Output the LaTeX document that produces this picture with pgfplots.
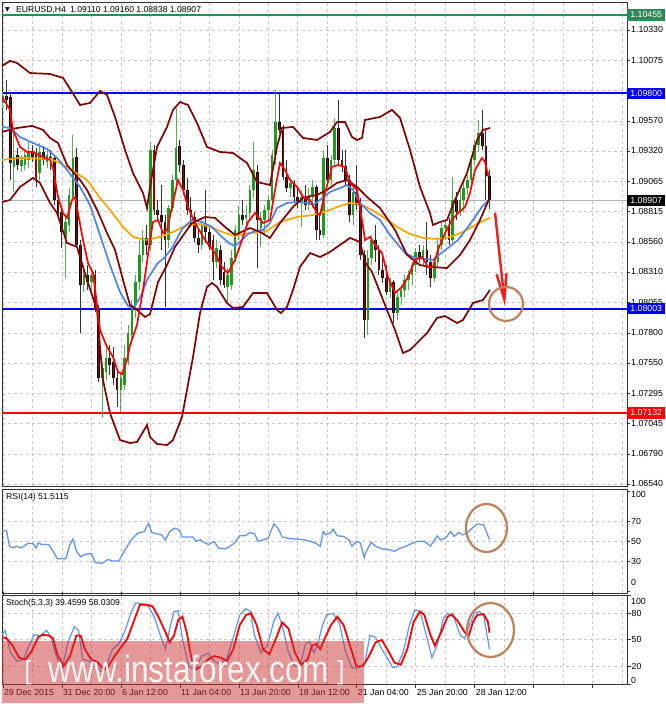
\documentclass[border=0pt]{standalone}
\usepackage{fontspec}
\setmainfont{Liberation Sans}
\newfontfamily\dejavu{DejaVu Sans}
\usepackage{pgfplots}
\usepackage{pgfplotstable}
\pgfplotsset{compat=1.18}
\usetikzlibrary{arrows.meta}

\definecolor{bbred}{RGB}{128,0,0}
\definecolor{maorange}{RGB}{255,165,0}
\definecolor{mablue}{RGB}{80,130,235}
\definecolor{mared}{RGB}{255,0,0}
\definecolor{lvgreen}{RGB}{46,139,87}
\definecolor{lvblue}{RGB}{0,0,255}
\definecolor{lvred}{RGB}{255,0,0}
\definecolor{bullbody}{RGB}{30,155,30}
\definecolor{bullwick}{RGB}{90,170,90}
\definecolor{bearbody}{RGB}{150,0,0}
\definecolor{bearwick}{RGB}{50,50,50}
\definecolor{circ}{RGB}{190,130,90}
\definecolor{rsiblue}{RGB}{100,149,237}
\definecolor{wm}{RGB}{205,50,50}
\definecolor{arrowred}{RGB}{240,30,30}

\newcommand\lf{\fontsize{8.8}{10}\selectfont}

\pgfplotstableread{
k O H L C
0 1.09720 1.09812 1.09678 1.09778
3 1.09186 1.09520 1.08977 1.09269
5 1.09194 1.09286 1.09144 1.09244
6 1.09202 1.09328 1.09161 1.09286
7 1.09244 1.09411 1.09177 1.09311
10 1.09135 1.09386 1.09077 1.09311
12 1.09227 1.09328 1.09177 1.09286
17 1.08593 1.08785 1.08259 1.08726
18 1.08701 1.09010 1.08643 1.08952
19 1.08935 1.09453 1.08910 1.09261
22 1.08200 1.08326 1.08142 1.08284
24 1.08225 1.08326 1.08159 1.08284
27 1.07424 1.07557 1.07090 1.07507
28 1.07474 1.07674 1.07407 1.07591
32 1.07324 1.07474 1.07140 1.07424
33 1.07365 1.07699 1.07324 1.07591
34 1.07574 1.07866 1.07532 1.07799
35 1.07783 1.08075 1.07699 1.08033
36 1.08033 1.08284 1.07925 1.08225
37 1.08225 1.08576 1.08159 1.08451
38 1.08451 1.08660 1.08392 1.08593
40 1.08534 1.09394 1.08493 1.09328
45 1.08576 1.08868 1.08509 1.08843
46 1.08843 1.09119 1.08810 1.09077
47 1.09077 1.09678 1.09035 1.09344
54 1.08534 1.08743 1.08493 1.08701
58 1.08392 1.08576 1.08342 1.08509
61 1.08184 1.08342 1.08050 1.08284
62 1.08200 1.08493 1.08159 1.08426
63 1.08426 1.08701 1.08392 1.08660
64 1.08618 1.08868 1.08576 1.08785
66 1.08760 1.08868 1.08676 1.08785
67 1.08801 1.09035 1.08760 1.08994
68 1.08994 1.09394 1.08927 1.09161
70 1.08676 1.08810 1.08518 1.08760
71 1.08743 1.08868 1.08618 1.08827
72 1.08827 1.08952 1.08726 1.08910
73 1.08910 1.09328 1.08868 1.09286
74 1.09286 1.09829 1.09202 1.09561
78 1.09010 1.09094 1.08935 1.09052
81 1.08885 1.08994 1.08685 1.08935
83 1.08868 1.09010 1.08827 1.08952
84 1.08952 1.09077 1.08843 1.09019
87 1.08618 1.09328 1.08593 1.09261
89 1.09077 1.09286 1.09035 1.09244
90 1.09244 1.09595 1.09202 1.09511
95 1.08785 1.09035 1.08701 1.08977
99 1.07908 1.08493 1.07783 1.08426
100 1.08426 1.08618 1.08367 1.08576
105 1.08142 1.08259 1.08092 1.08225
107 1.07966 1.08159 1.07908 1.08100
108 1.08100 1.08200 1.08033 1.08159
109 1.08159 1.08284 1.08092 1.08242
110 1.08242 1.08326 1.08159 1.08284
111 1.08284 1.08392 1.08200 1.08367
112 1.08367 1.08509 1.08309 1.08476
114 1.08426 1.08534 1.08367 1.08493
117 1.08259 1.08426 1.08225 1.08392
118 1.08392 1.08593 1.08342 1.08534
119 1.08534 1.08718 1.08493 1.08676
120 1.08676 1.08743 1.08576 1.08701
122 1.08576 1.09102 1.08534 1.08910
124 1.08810 1.08994 1.08776 1.08910
125 1.08910 1.09052 1.08810 1.09010
126 1.09010 1.09119 1.08952 1.09077
127 1.09077 1.09286 1.09035 1.09244
128 1.09244 1.09411 1.09202 1.09369
129 1.09369 1.09578 1.09311 1.09469
}\bull

\pgfplotstableread{
k O H L C
1 1.09778 1.09912 1.09662 1.09745
2 1.09770 1.09795 1.09077 1.09219
4 1.09286 1.09344 1.09161 1.09202
8 1.09311 1.09369 1.09227 1.09269
9 1.09302 1.09344 1.09019 1.09094
11 1.09311 1.09361 1.09202 1.09244
13 1.09269 1.09328 1.09161 1.09261
14 1.09261 1.09286 1.08868 1.08910
15 1.08910 1.08952 1.08743 1.08801
16 1.08810 1.08868 1.08509 1.08643
20 1.09269 1.09344 1.08518 1.08534
21 1.08534 1.08576 1.07799 1.08200
23 1.08284 1.08367 1.08159 1.08225
25 1.08284 1.08326 1.07975 1.07992
26 1.07992 1.08033 1.07390 1.07424
29 1.07591 1.07699 1.07449 1.07532
30 1.07557 1.07683 1.07365 1.07424
31 1.07424 1.07491 1.07182 1.07324
39 1.08593 1.08701 1.08451 1.08534
41 1.09328 1.09369 1.08785 1.08827
42 1.08827 1.08910 1.08743 1.08785
43 1.08785 1.09035 1.08493 1.08726
44 1.08726 1.08785 1.08017 1.08576
48 1.09361 1.09411 1.09144 1.09202
49 1.09202 1.09244 1.08952 1.08994
50 1.08994 1.09094 1.08785 1.08827
51 1.08827 1.08935 1.08685 1.08768
52 1.08768 1.08810 1.08559 1.08593
53 1.08593 1.08676 1.08467 1.08534
55 1.08701 1.08994 1.08551 1.08643
56 1.08643 1.08676 1.08493 1.08518
57 1.08576 1.08618 1.08242 1.08392
59 1.08493 1.08534 1.08200 1.08242
60 1.08309 1.08392 1.08175 1.08200
65 1.08785 1.08910 1.08701 1.08743
69 1.09144 1.09202 1.08342 1.08743
75 1.09561 1.09812 1.09469 1.09495
76 1.09495 1.09536 1.09077 1.09102
77 1.09102 1.09244 1.08977 1.09010
79 1.09052 1.09077 1.08893 1.08935
80 1.08935 1.09010 1.08843 1.08885
82 1.08935 1.09035 1.08827 1.08868
85 1.09019 1.09035 1.08576 1.08660
86 1.08660 1.08785 1.08576 1.08618
88 1.09261 1.09369 1.09035 1.09077
91 1.09511 1.09745 1.09202 1.09244
92 1.09244 1.09328 1.09144 1.09194
93 1.09194 1.09328 1.09035 1.09077
94 1.09077 1.09119 1.08726 1.08785
96 1.08977 1.09202 1.08827 1.08868
97 1.08868 1.08927 1.08409 1.08451
98 1.08451 1.08493 1.07758 1.07908
101 1.08576 1.08701 1.08392 1.08493
102 1.08493 1.08534 1.08284 1.08326
103 1.08326 1.08451 1.08217 1.08259
104 1.08259 1.08367 1.08117 1.08142
106 1.08225 1.08242 1.07883 1.07966
113 1.08476 1.08534 1.08392 1.08426
115 1.08493 1.08726 1.08284 1.08392
116 1.08392 1.08451 1.08184 1.08259
121 1.08701 1.08760 1.08534 1.08576
123 1.08910 1.08977 1.08743 1.08810
130 1.09469 1.09662 1.09328 1.09361
131 1.09361 1.09495 1.08910 1.09110
132 1.09110 1.09160 1.08838 1.08907
}\bear

\pgfplotsset{
  mt/.style={
    scale only axis, width=625pt, xmin=-0.22, xmax=169.28,
    enlargelimits=false,
    axis line style={black!80, line width=0.7pt},
    xtick={0,8,...,168}, xmajorgrids, ymajorgrids,
    grid style={dash pattern=on 3pt off 3pt, gray!45, line width=0.6pt},
    minor grid style={dash pattern=on 3pt off 3pt, gray!45, line width=0.6pt},
    ytick pos=right, yticklabel pos=right, tick align=outside,
    major tick length=3pt,
    xtick style={draw=none},
    ytick style={black!80, line width=0.6pt},
    tick label style={font=\lf, black},
    yticklabel style={inner xsep=1pt},
    /pgf/number format/assume math mode=true,
  },
  candle/.style 2 args={draw=none, fill=none, mark=none, forget plot,
    error bars/.cd, y dir=plus, y explicit, error mark=none,
    error bar style={solid, draw=#1, line width=#2}},
}
\tikzset{lbox/.style={anchor=west, text=white, inner sep=0pt, minimum width=38pt, minimum height=11.5pt, font=\lf}}

\begin{document}
\begin{tikzpicture}
\path[use as bounding box] (0pt,0pt) rectangle (665pt,704pt);
\fill[white] (0pt,0pt) rectangle (665pt,704pt);

% ================= MAIN PRICE PANEL =================
\begin{axis}[mt, at={(2pt,218pt)}, anchor=south west, height=484pt,
  ymin=1.06522, ymax=1.10563, xticklabels={},
  ytick={1.06540,1.06790,1.07045,1.07295,1.07550,1.07800,1.08055,1.08310,1.08560,1.08815,1.09065,1.09320,1.09570,1.09825,1.10075,1.10330},
  yticklabels={1.06540,1.06790,1.07045,1.07295,1.07550,1.07800,1.08055,1.08310,1.08560,1.08815,1.09065,1.09320,1.09570,,1.10075,1.10330},
]
% horizontal levels
\addplot[lvgreen, line width=1.8pt] coordinates {(-0.22,1.10455) (169.28,1.10455)};
\addplot[lvblue, line width=1.8pt] coordinates {(-0.22,1.09800) (169.28,1.09800)};
\addplot[lvblue, line width=1.8pt] coordinates {(-0.22,1.08003) (169.28,1.08003)};
\addplot[lvred, line width=1.8pt] coordinates {(-0.22,1.07132) (169.28,1.07132)};
\addplot[gray!60, line width=0.7pt] coordinates {(-0.22,1.08907) (169.28,1.08907)};

% candles: wicks
\addplot[candle={bullwick}{0.9pt}]
  table[x=k, y=L, y error expr=\thisrow{H}-\thisrow{L}] {\bull};
\addplot[candle={bearwick}{0.9pt}]
  table[x=k, y=L, y error expr=\thisrow{H}-\thisrow{L}] {\bear};
% candles: bodies
\addplot[candle={bullbody}{2.6pt}]
  table[x=k, y=O, y error expr={max(\thisrow{C}-\thisrow{O},0.00006)}] {\bull};
\addplot[candle={black}{2.7pt}]
  table[x=k, y=C, y error expr={max(\thisrow{O}-\thisrow{C},0.00006)}] {\bear};
\addplot[candle={bearbody}{1.1pt}]
  table[x=k, y=C, y error expr={max(\thisrow{O}-\thisrow{C},0.00006)}] {\bear};

% slow MA (orange)
\addplot[maorange, line width=1.7pt] table {
k p
-0.22 1.09244
4.66 1.09261
12.80 1.09252
15.51 1.09219
19.04 1.09152
22.84 1.09077
26.36 1.08927
29.07 1.08827
32.60 1.08685
35.31 1.08601
38.56 1.08576
42.63 1.08601
46.16 1.08643
49.95 1.08701
53.48 1.08710
56.99 1.08676
60.26 1.08634
62.97 1.08609
67.04 1.08634
71.11 1.08643
75.17 1.08726
79.79 1.08768
84.12 1.08785
87.92 1.08818
91.45 1.08860
94.16 1.08885
96.87 1.08877
99.58 1.08835
103.11 1.08768
106.90 1.08685
110.43 1.08626
113.96 1.08593
117.75 1.08584
121.27 1.08601
124.80 1.08643
128.60 1.08710
131.31 1.08751
132.12 1.08760
};
% medium MA (blue)
\addplot[mablue, line width=1.7pt] table {
k p
-0.22 1.09520
1.95 1.09511
4.66 1.09436
8.19 1.09386
11.99 1.09336
14.70 1.09261
17.41 1.09161
20.94 1.09019
23.65 1.08868
26.36 1.08618
29.07 1.08367
31.78 1.08142
33.95 1.08025
35.31 1.08008
37.21 1.08092
39.11 1.08242
41.82 1.08376
43.99 1.08434
45.89 1.08509
48.60 1.08668
51.31 1.08743
54.02 1.08726
56.73 1.08685
59.44 1.08601
61.61 1.08543
62.97 1.08526
64.87 1.08576
66.50 1.08626
68.39 1.08651
70.56 1.08660
72.46 1.08718
74.36 1.08843
77.07 1.08885
79.79 1.08893
82.50 1.08885
84.12 1.08868
86.02 1.08910
88.73 1.08977
91.45 1.09010
93.34 1.09035
94.97 1.08994
96.87 1.08885
99.58 1.08801
102.29 1.08743
105.00 1.08618
109.07 1.08467
111.79 1.08426
114.50 1.08417
116.67 1.08409
118.56 1.08459
120.73 1.08509
123.45 1.08576
126.16 1.08685
128.06 1.08768
129.95 1.08852
131.58 1.08902
132.12 1.08910
};
% Bollinger upper
\addplot[bbred, line width=1.7pt] table {
k p
-0.22 1.10029
1.95 1.10071
3.85 1.10054
7.38 1.09970
12.80 1.09962
16.33 1.09929
18.77 1.09812
20.94 1.09703
23.65 1.09720
26.36 1.09820
28.26 1.09787
30.43 1.09603
33.14 1.09328
35.31 1.09135
38.02 1.08968
39.11 1.08843
39.92 1.09019
41.82 1.09353
44.53 1.09520
46.16 1.09662
48.05 1.09728
50.22 1.09703
52.66 1.09553
55.37 1.09353
58.90 1.09311
62.43 1.09302
66.22 1.09219
68.94 1.09060
72.46 1.09035
74.36 1.09353
75.72 1.09511
78.70 1.09520
81.41 1.09428
85.21 1.09411
88.73 1.09478
90.63 1.09561
92.80 1.09561
94.70 1.09436
96.06 1.09411
97.41 1.09428
98.23 1.09578
102.29 1.09603
105.54 1.09662
107.72 1.09595
110.43 1.09328
113.14 1.09019
115.85 1.08801
116.66 1.08701
118.56 1.08726
120.46 1.08743
122.63 1.08910
125.88 1.09135
128.60 1.09411
130.22 1.09495
132.12 1.09511
};
% Bollinger middle
\addplot[bbred, line width=1.7pt] table {
k p
-0.22 1.09478
3.85 1.09511
7.92 1.09528
10.90 1.09495
12.80 1.09428
14.97 1.09386
17.41 1.09202
20.94 1.09077
22.84 1.08994
25.55 1.08827
28.26 1.08634
30.43 1.08493
32.60 1.08242
34.50 1.08033
36.39 1.07992
38.56 1.07933
39.92 1.07958
42.09 1.08225
44.53 1.08367
46.70 1.08518
49.95 1.08660
51.31 1.08718
54.84 1.08768
57.55 1.08760
60.26 1.08685
62.97 1.08618
67.04 1.08676
69.75 1.08643
72.46 1.08593
75.17 1.08718
78.70 1.08852
81.41 1.08927
85.21 1.08952
87.92 1.08994
90.63 1.09052
93.34 1.09077
96.06 1.09019
98.77 1.08935
102.29 1.08843
106.36 1.08660
109.62 1.08451
113.14 1.08367
115.85 1.08351
120.46 1.08342
123.99 1.08451
126.70 1.08576
129.41 1.08743
132.12 1.08935
};
% Bollinger lower
\addplot[bbred, line width=1.7pt] table {
k p
-0.22 1.08893
1.95 1.08910
4.66 1.09019
8.19 1.09094
10.09 1.09052
12.80 1.08885
14.70 1.08801
17.41 1.08551
20.12 1.08518
22.84 1.08242
25.55 1.07992
26.36 1.07683
27.17 1.07407
29.07 1.07131
31.78 1.06906
34.50 1.06881
36.39 1.06889
38.02 1.06973
39.11 1.07031
39.92 1.06931
41.82 1.06873
44.53 1.06864
46.16 1.06906
48.60 1.07098
49.95 1.07324
51.58 1.07599
53.48 1.07966
55.37 1.08184
56.73 1.08217
58.09 1.08184
60.80 1.08050
62.43 1.08008
65.14 1.08017
67.85 1.08133
71.65 1.08133
74.36 1.07992
75.44 1.07966
77.07 1.08017
78.70 1.08159
80.60 1.08351
83.31 1.08467
86.02 1.08434
88.73 1.08476
94.16 1.08593
96.87 1.08559
98.23 1.08392
100.13 1.08309
103.11 1.08075
106.36 1.07825
108.53 1.07632
110.43 1.07658
115.04 1.07799
117.75 1.07925
119.92 1.07941
123.18 1.07883
124.80 1.07908
127.51 1.08050
130.22 1.08075
132.12 1.08159
};
% fast MA (red)
\addplot[mared, line width=1.7pt] table {
k p
-0.22 1.09770
1.95 1.09662
2.77 1.09495
4.66 1.09353
6.56 1.09311
8.19 1.09311
10.90 1.09269
12.80 1.09244
13.61 1.09177
14.97 1.08935
16.33 1.08801
17.41 1.08760
18.77 1.08910
19.58 1.08935
20.39 1.08801
21.75 1.08576
23.11 1.08384
24.46 1.08300
25.55 1.08033
26.36 1.07825
28.26 1.07683
29.89 1.07599
31.24 1.07474
32.33 1.07457
33.68 1.07574
34.50 1.07699
36.39 1.07866
38.02 1.08159
39.11 1.08392
39.92 1.08576
40.73 1.08726
42.09 1.08743
43.44 1.08634
44.53 1.08660
45.89 1.08852
47.51 1.09077
48.87 1.08994
50.22 1.08852
52.12 1.08718
54.84 1.08576
57.55 1.08467
59.44 1.08351
61.07 1.08300
62.97 1.08409
64.87 1.08576
66.50 1.08726
68.39 1.08801
70.56 1.08718
72.46 1.08743
73.82 1.08994
75.17 1.09219
76.53 1.09161
77.89 1.09077
79.79 1.09019
81.41 1.08935
83.31 1.08910
85.21 1.08801
86.02 1.08785
87.38 1.08968
89.28 1.09186
90.91 1.09202
92.80 1.09186
94.16 1.09052
96.06 1.08994
97.41 1.08743
98.23 1.08576
99.58 1.08601
100.94 1.08534
102.84 1.08467
104.46 1.08267
106.36 1.08133
108.26 1.08184
109.89 1.08267
111.79 1.08409
113.69 1.08434
115.31 1.08351
116.67 1.08351
118.02 1.08493
119.92 1.08634
121.82 1.08743
123.45 1.08801
125.35 1.08852
126.70 1.08968
128.06 1.09161
129.95 1.09261
130.77 1.09227
131.58 1.09119
132.00 1.09136
};

% annotation: arrow and circle
\draw[arrowred, line width=2.4pt, -{Straight Barb[length=26pt, width=10pt]}]
  (axis cs:133.5,1.08801) -- (axis cs:136.2,1.08025);
\draw[circ, line width=2.2pt] (axis cs:136.46,1.08042) circle[radius=17pt];

\coordinate (L1) at (axis cs:169.28,1.10455);
\coordinate (L2) at (axis cs:169.28,1.09800);
\coordinate (L3) at (axis cs:169.28,1.08907);
\coordinate (L4) at (axis cs:169.28,1.08003);
\coordinate (L5) at (axis cs:169.28,1.07132);
\end{axis}

\node[lbox, fill=lvgreen] at (L1) {1.10455};
\node[lbox, fill=lvblue] at (L2) {1.09800};
\node[lbox, fill=black] at (L3) {1.08907};
\node[lbox, fill=lvblue] at (L4) {1.08003};
\node[lbox, fill=lvred] at (L5) {1.07132};

% ================= RSI PANEL =================
\begin{axis}[mt, at={(2pt,111pt)}, anchor=south west, height=104pt,
  ymin=-2, ymax=102, xticklabels={},
  ytick={30,50,70}, extra y ticks={0,100}, extra y tick labels={},
  extra y tick style={grid=none},
]
\addplot[rsiblue, line width=1.3pt] table {
k v
-0.2 60.5
1.0 60.5
1.8 44.8
2.7 43.1
3.8 44.8
5.0 43.1
6.7 47.4
8.2 47.4
9.0 43.1
9.6 48.0
10.7 46.4
12.5 46.4
13.6 39.8
14.8 32.3
15.9 32.3
17.1 32.3
18.2 46.4
19.0 52.0
20.0 39.8
21.1 34.3
22.3 36.6
24.0 37.5
25.1 28.4
26.9 27.7
28.6 31.6
29.7 30.0
31.5 30.0
33.2 41.5
34.9 51.3
36.6 57.9
38.4 59.5
39.5 67.7
40.4 58.5
41.8 57.2
43.0 56.2
44.1 51.3
45.3 59.5
46.6 62.8
47.8 61.1
48.7 53.9
50.4 53.9
51.6 53.9
52.4 49.7
53.6 51.3
54.5 48.7
55.8 46.4
56.8 48.7
57.4 49.0
58.5 43.1
60.2 42.1
61.4 44.1
62.8 48.0
64.2 55.2
65.7 55.2
67.1 58.5
68.3 57.2
69.2 49.7
70.6 51.3
71.9 52.6
73.5 67.0
74.6 62.8
75.8 53.9
78.0 52.3
79.8 52.0
81.5 51.3
83.2 50.0
85.0 47.4
86.1 44.8
86.9 59.5
87.6 56.2
89.0 58.5
89.6 61.8
90.7 55.2
92.4 54.6
93.8 51.3
94.7 44.8
95.9 49.7
97.0 48.0
98.0 33.3
98.4 38.2
99.9 48.7
101.1 44.8
102.8 42.1
104.5 41.5
106.2 39.8
108.0 43.1
109.7 45.4
110.8 47.4
112.6 49.7
114.3 49.7
116.0 44.8
117.8 55.2
118.7 51.3
120.1 53.0
121.4 59.5
122.4 54.6
123.7 58.5
124.7 56.2
125.8 57.9
127.0 61.8
128.7 67.0
130.4 66.1
132.0 51.5
};
\draw[circ, line width=2.2pt] (axis cs:131.17,63) ellipse[x radius=20.5pt, y radius=24pt];
\end{axis}

% ================= STOCHASTIC PANEL =================
\begin{axis}[mt, at={(2pt,20pt)}, anchor=south west, height=88.5pt,
  ymin=0, ymax=100,
  ytick={20,50,80}, extra y ticks={0,100}, extra y tick labels={},
  extra y tick style={grid=none},
  xtick={0,16,...,160}, minor xtick={8,24,...,168}, xminorgrids,
  xtick style={draw=black!80, line width=0.6pt}, major tick length=3.5pt,
  minor tick length=0pt,
  xticklabels={29 Dec 2015,31 Dec 20:00,6 Jan 12:00,11 Jan 04:00,13 Jan 20:00,18 Jan 12:00,21 Jan 04:00,25 Jan 20:00,28 Jan 12:00,,},
  xticklabel style={anchor=north west, inner xsep=1pt, inner ysep=1.5pt},
]
\addplot[rsiblue, line width=1.2pt] table {
k v
-0.2 55.6
0.62 60.6
2.12 35.5
3.84 25.8
5.57 27.7
6.72 39.4
8.44 55.6
10.17 54.8
11.90 60.6
13.05 52.9
14.20 35.5
15.92 14.2
17.65 47.1
19.38 64.5
20.53 60.6
21.68 27.7
23.40 25.8
25.13 21.9
26.85 13.0
28.01 20.0
29.73 39.4
31.46 45.2
33.18 60.6
34.91 81.9
36.06 91.6
37.79 90.5
39.51 87.7
41.24 74.2
42.73 54.8
44.11 39.4
45.26 62.6
46.42 81.9
47.57 82.7
48.72 51.0
50.44 20.0
52.17 16.1
53.89 31.6
55.62 34.7
57.35 25.8
59.07 21.9
60.80 29.7
62.52 52.9
64.25 78.1
65.97 85.0
67.13 81.9
68.28 54.8
70.00 35.5
71.73 43.2
73.45 70.3
74.60 80.0
75.76 66.5
77.48 35.5
79.21 20.0
80.93 25.8
82.08 45.2
83.24 47.9
84.39 35.5
85.54 47.1
86.69 66.5
87.84 78.1
89.56 80.0
91.29 68.4
93.01 35.5
94.74 18.1
96.47 18.1
98.19 23.9
99.57 54.8
101.07 52.9
102.79 39.4
104.52 27.7
105.67 18.8
106.82 19.2
108.55 35.5
110.27 66.5
111.77 83.9
113.15 81.9
114.88 54.8
116.37 29.7
117.75 43.2
119.48 74.2
120.63 80.0
122.36 75.0
124.08 54.8
125.23 51.7
126.38 64.5
127.88 80.0
129.26 81.9
130.41 78.1
131.33 54.8
132.00 39.5
};
\addplot[mared, line width=1.8pt] table {
k v
-0.2 52.9
0.97 51.7
2.69 43.2
4.42 29.7
6.14 27.7
7.87 37.4
9.60 52.9
10.75 55.6
12.47 54.8
13.62 51.7
14.77 33.5
16.50 20.0
18.23 31.6
19.95 54.8
21.10 54.8
22.25 39.4
23.98 27.7
25.70 24.6
27.43 16.1
28.58 20.0
30.31 31.6
32.03 41.3
33.76 51.0
35.48 70.3
37.21 89.7
38.94 89.7
40.66 87.7
42.39 74.2
44.11 58.7
45.26 47.1
46.42 54.8
47.57 72.3
48.72 76.1
49.87 58.7
51.02 31.6
52.17 16.1
53.89 20.0
55.62 27.7
57.35 31.6
59.07 29.7
60.80 25.8
62.52 39.4
64.25 66.5
65.97 78.1
67.36 80.0
68.85 66.5
70.58 39.4
72.30 33.5
74.03 51.0
75.76 69.6
77.48 62.6
79.21 35.5
80.93 21.9
82.66 27.7
83.81 43.2
84.96 45.2
86.11 39.4
87.26 51.0
88.99 66.5
90.71 76.1
92.44 66.5
94.17 43.2
95.89 20.0
97.62 20.0
99.34 31.6
101.07 47.1
102.79 49.8
104.52 37.4
106.25 23.9
107.97 21.9
109.70 39.4
111.42 70.3
113.15 81.9
114.30 78.1
116.03 54.8
117.18 43.2
118.90 58.7
120.63 76.1
121.78 78.8
123.51 70.3
125.23 58.7
126.38 54.8
127.53 70.3
128.68 78.1
130.41 78.8
131.56 70.3
132.00 58.0
};
\draw[circ, line width=2.2pt] (axis cs:132.26,61) ellipse[x radius=23.5pt, y radius=27pt];
\end{axis}

% ================= texts =================
\node[anchor=west, inner sep=0pt] at (5pt,694.5pt) {\dejavu\fontsize{6}{6}\selectfont ▼};
\node[anchor=west, inner sep=0pt] at (16pt,694pt) {\fontsize{8.6}{10}\selectfont EURUSD,H4\enspace 1.09110 1.09160 1.08838 1.08907};
\node[anchor=west, inner sep=0pt] at (6pt,207pt) {\fontsize{8.6}{10}\selectfont RSI(14) 51.5115};
\node[anchor=west, inner sep=0pt] at (6pt,101pt) {\fontsize{8.6}{10}\selectfont Stoch(5,3,3) 39.4599 58.0309};
\node[anchor=west, inner sep=0pt] at (631pt,210pt) {\lf 100};
\node[anchor=west, inner sep=0pt] at (631pt,122pt) {\lf 0};
\node[anchor=west, inner sep=0pt] at (631pt,103pt) {\lf 100};
\node[anchor=west, inner sep=0pt] at (631pt,24pt) {\lf 0};

% ================= watermark =================
\fill[wm, opacity=0.5] (2pt,1pt) rectangle (364pt,63pt);
\node[white, opacity=0.9, anchor=base, xscale=0.83, inner sep=0pt] at (189pt,21pt) {\fontsize{38}{40}\selectfont www.instaforex.com};
\node[white, opacity=0.9, anchor=base, inner sep=0pt] at (28pt,24pt) {\fontsize{26}{28}\selectfont [};
\node[white, opacity=0.9, anchor=base, inner sep=0pt] at (341pt,24pt) {\fontsize{26}{28}\selectfont ]};
\end{tikzpicture}
\end{document}
